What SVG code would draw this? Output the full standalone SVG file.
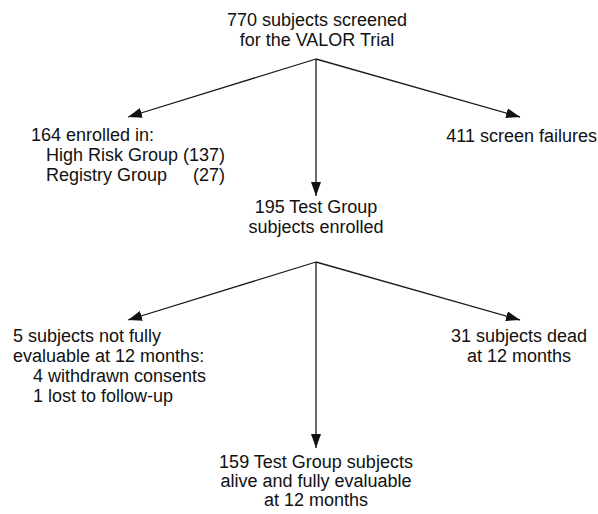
<svg xmlns="http://www.w3.org/2000/svg" width="598" height="514" viewBox="0 0 598 514">
<style>
text{font-family:"Liberation Sans",Arial,Helvetica,sans-serif;font-size:18px;fill:#111}
.c{text-anchor:middle}
.e{text-anchor:end}
.ln{stroke:#1a1a1a;stroke-width:1.3;fill:none;marker-end:url(#ah)}
</style>
<defs>
<marker id="ah" markerUnits="userSpaceOnUse" markerWidth="15" markerHeight="11" refX="14" refY="5" orient="auto">
<path d="M0,0 L14,5 L0,10 z" fill="#111"/>
</marker>
</defs>
<rect width="598" height="514" fill="#fff"/>
<g id="connectors">
<line class="ln" x1="316" y1="59" x2="128" y2="117"/>
<line class="ln" x1="316" y1="59" x2="520" y2="117"/>
<line class="ln" x1="316" y1="59" x2="316" y2="196"/>
<line class="ln" x1="316" y1="262" x2="128" y2="320"/>
<line class="ln" x1="316" y1="262" x2="520" y2="320"/>
<line class="ln" x1="316" y1="262" x2="316" y2="448"/>
</g>
<g id="screened">
<text class="c" x="317" y="26">770 subjects screened</text>
<text class="c" x="317" y="46">for the VALOR Trial</text>
</g>
<g id="enrolled164">
<text x="31" y="141">164 enrolled in:</text>
<text x="46" y="161">High Risk Group (137)</text>
<text x="46" y="181">Registry Group</text>
<text class="e" x="225" y="181">(27)</text>
</g>
<g id="failures">
<text class="e" x="597" y="142">411 screen failures</text>
</g>
<g id="testgroup">
<text class="c" x="316" y="213">195 Test Group</text>
<text class="c" x="316" y="233">subjects enrolled</text>
</g>
<g id="notevaluable">
<text x="13" y="342">5 subjects not fully</text>
<text x="13" y="362">evaluable at 12 months:</text>
<text x="33" y="382">4 withdrawn consents</text>
<text x="33" y="402">1 lost to follow-up</text>
</g>
<g id="dead">
<text class="c" x="519" y="342">31 subjects dead</text>
<text class="c" x="519" y="362">at 12 months</text>
</g>
<g id="alive">
<text class="c" x="316" y="468">159 Test Group subjects</text>
<text class="c" x="316" y="487">alive and fully evaluable</text>
<text class="c" x="316" y="506">at 12 months</text>
</g>
</svg>
